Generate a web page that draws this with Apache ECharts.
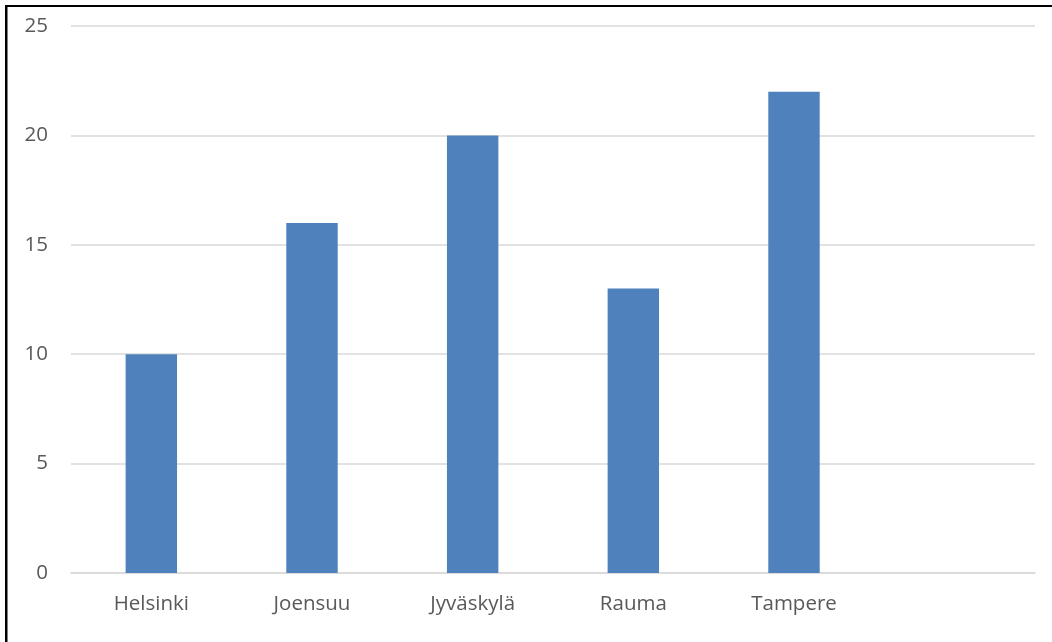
<!DOCTYPE html>
<html>
<head>
<meta charset="utf-8">
<script src="https://cdn.jsdelivr.net/npm/echarts@6/dist/echarts.min.js"></script>
<style>
  html, body { margin: 0; padding: 0; background: #fff; }
  #chart { width: 1052px; height: 642px; }
</style>
</head>
<body>
<div id="chart"></div>
<script>
// Cities on the category axis; the trailing empty slot keeps the spacing of a sixth column
const cities = ['Helsinki', 'Joensuu', 'Jyväskylä', 'Rauma', 'Tampere', ''];
const counts = [10, 16, 20, 13, 22, null];
const yTicks = { min: 0, max: 25, interval: 5 };

const chart = echarts.init(document.getElementById('chart'));
const textStyle = { fontFamily: 'Open Sans', fontSize: 20.5, color: '#595959' };

chart.setOption({
  animation: false,
  backgroundColor: '#fff',
  grid: { left: 71, right: 17, top: 26, bottom: 69 },
  xAxis: {
    type: 'category',
    data: cities,
    axisLine: { lineStyle: { color: '#d9d9d9', width: 1.5 } },
    axisTick: { show: false },
    axisLabel: Object.assign({ margin: 21, interval: 0 }, textStyle)
  },
  yAxis: {
    type: 'value',
    min: yTicks.min,
    max: yTicks.max,
    interval: yTicks.interval,
    axisLine: { show: false },
    axisTick: { show: false },
    splitLine: { lineStyle: { color: '#d9d9d9', width: 1.5 } },
    axisLabel: Object.assign({ margin: 23 }, textStyle)
  },
  series: [{
    type: 'bar',
    data: counts,
    barWidth: '32%',
    itemStyle: { color: '#4f81bd' }
  }],
  graphic: [
    { type: 'rect', shape: { x: 5, y: 5, width: 2.5, height: 637 }, style: { fill: '#000' }, silent: true },
    { type: 'rect', shape: { x: 5, y: 5, width: 1047, height: 2 }, style: { fill: '#000' }, silent: true }
  ]
});
</script>
</body>
</html>
